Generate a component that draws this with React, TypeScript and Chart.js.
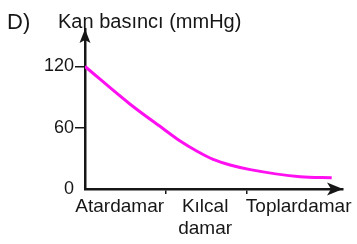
import React, { useEffect, useRef } from "react";
import { Chart, registerables } from "chart.js";

Chart.register(...registerables);

const panelLabel = "D)";
const yAxisTitle = "Kan basıncı (mmHg)";
const yTickValues = [0, 60, 120];
const xTickValues = [0.43, 1, 1.49, 2, 2.65];
const xTickLabels: (string | string[])[] = ["Atardamar", "", ["Kılcal", "damar"], "", "Toplardamar"];
const xDividers = [1, 2];
const pressureX = [0, 0.56, 0.97, 1.18, 1.39, 1.59, 1.8, 2.05, 2.67, 3.06];
const pressureY = [120, 83, 59, 47, 37, 29, 23.5, 19, 12, 11];

const FONT = "'Liberation Sans', Arial, sans-serif";
const INK = "#161616";

const decorPlugin = {
  id: "decor",
  afterDraw(chart: any) {
    const { ctx, chartArea } = chart;
    const { left, bottom, top, right } = chartArea;
    ctx.save();
    ctx.fillStyle = INK;
    ctx.beginPath();
    ctx.moveTo(left, top);
    ctx.lineTo(left + 5.5, top + 14);
    ctx.lineTo(left, top + 11);
    ctx.lineTo(left - 5.5, top + 14);
    ctx.closePath();
    ctx.fill();
    ctx.beginPath();
    ctx.moveTo(right, bottom);
    ctx.lineTo(right - 16, bottom - 6.5);
    ctx.lineTo(right - 12, bottom);
    ctx.lineTo(right - 16, bottom + 6.5);
    ctx.closePath();
    ctx.fill();
    ctx.textBaseline = "alphabetic";
    ctx.textAlign = "left";
    ctx.font = `22px ${FONT}`;
    ctx.fillText(panelLabel, 7, 29);
    ctx.font = `20px ${FONT}`;
    ctx.fillText(yAxisTitle, 58, 28);
    ctx.restore();
  },
};

export default function App() {
  const ref = useRef<HTMLCanvasElement | null>(null);
  useEffect(() => {
    document.body.style.margin = "0";
    document.body.style.background = "#ffffff";
    const canvas = ref.current!;
    const chart = new Chart(canvas, {
      type: "line",
      data: {
        datasets: [
          {
            data: pressureX.map((x, i) => ({ x, y: pressureY[i] })),
            borderColor: "#ff10f0",
            borderWidth: 3,
            pointRadius: 0,
            cubicInterpolationMode: "monotone",
            fill: false,
          },
        ],
      },
      options: {
        animation: false,
        responsive: false,
        layout: { padding: { top: 29, right: 14, left: 0, bottom: 0 } },
        plugins: { legend: { display: false }, tooltip: { enabled: false }, title: { display: false } },
        scales: {
          x: {
            type: "linear",
            min: 0,
            max: 3.2,
            afterBuildTicks: (s: any) => {
              s.ticks = xTickValues.map((v) => ({ value: v }));
            },
            afterFit: (s: any) => {
              s.height = 55;
            },
            grid: {
              drawOnChartArea: false,
              tickLength: 5,
              lineWidth: 1.5,
              color: (c: any) => (c.tick && xDividers.includes(c.tick.value) ? INK : "rgba(0,0,0,0)"),
            },
            border: { display: true, color: INK, width: 2.5 },
            ticks: {
              autoSkip: false,
              maxRotation: 0,
              padding: 1,
              color: INK,
              font: { family: FONT, size: 19 },
              callback: (v: any) => {
                const i = xTickValues.indexOf(Number(v));
                return i >= 0 ? xTickLabels[i] : "";
              },
            },
          },
          y: {
            type: "linear",
            min: 0,
            max: 156.7,
            afterBuildTicks: (s: any) => {
              s.ticks = yTickValues.map((v) => ({ value: v }));
            },
            afterFit: (s: any) => {
              s.width = 85;
            },
            grid: {
              drawOnChartArea: false,
              tickLength: 10,
              lineWidth: 1.5,
              color: (c: any) => (c.tick && c.tick.value === 0 ? "rgba(0,0,0,0)" : INK),
            },
            border: { display: true, color: INK, width: 2.5 },
            ticks: {
              padding: 1,
              color: INK,
              font: { family: FONT, size: 18 },
            },
          },
        },
      },
      plugins: [decorPlugin],
    } as any);
    return () => chart.destroy();
  }, []);
  return (
    <div style={{ width: 357, height: 244 }}>
      <canvas ref={ref} width={357} height={244} />
    </div>
  );
}
